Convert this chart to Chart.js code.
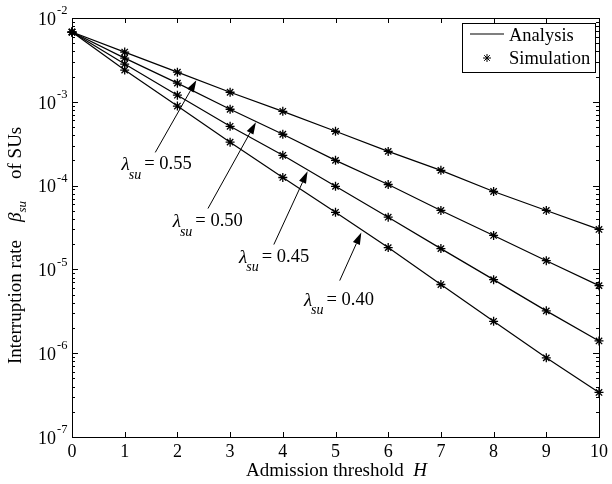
<!DOCTYPE html>
<html>
<head>
<meta charset="utf-8">
<script src="https://cdn.jsdelivr.net/npm/chart.js@4.4.0/dist/chart.umd.min.js"></script>
<style>
  html, body { margin: 0; padding: 0; background: #fff; }
  #wrap { width: 612px; height: 484px; }
</style>
</head>
<body>
<div id="wrap"><canvas id="chart" width="612" height="484"></canvas></div>
<script>
// admission threshold H
const thresholds = [0, 1, 2, 3, 4, 5, 6, 7, 8, 9, 10];

// interruption rate of SUs, one list per arrival rate
const rate055 = [6.8e-3, 3.92e-3, 2.26e-3, 1.30e-3, 7.7e-4, 4.45e-4, 2.56e-4, 1.52e-4, 8.5e-5, 5.05e-5, 3.0e-5];
const rate050 = [6.8e-3, 3.32e-3, 1.67e-3, 8.15e-4, 4.1e-4, 2.0e-4, 1.03e-4, 5.05e-5, 2.54e-5, 1.27e-5, 6.4e-6];
const rate045 = [6.8e-3, 2.82e-3, 1.2e-3, 5.1e-4, 2.3e-4, 9.8e-5, 4.2e-5, 1.77e-5, 7.55e-6, 3.2e-6, 1.4e-6];
const rate040 = [6.8e-3, 2.39e-3, 8.9e-4, 3.3e-4, 1.25e-4, 4.8e-5, 1.82e-5, 6.6e-6, 2.4e-6, 8.8e-7, 3.4e-7];

const lambdaLabels = ['0.55', '0.50', '0.45', '0.40'];

// y axis decades (exponents) for tick labels
const decades = [-7, -6, -5, -4, -3, -2];

// arrow annotations: [H, value] of tip and tail, label anchor [H, value]
const arrowTips = [[2.36, 1.81e-3], [3.49, 5.7e-4], [4.47, 1.48e-4], [5.49, 2.75e-5]];
const arrowTails = [[1.58, 2.49e-4], [2.58, 5.33e-5], [3.83, 1.98e-5], [5.08, 7.35e-6]];
const labelAnchors = [[0.94, 1.75e-4], [1.91, 3.63e-5], [3.17, 1.38e-5], [4.40, 4.23e-6]];

const SERIF = '"Liberation Serif", "Times New Roman", serif';

function makeSet(values) {
  return {
    data: thresholds.map((h, i) => ({ x: h, y: values[i] })),
    borderColor: '#000',
    backgroundColor: '#000',
    borderWidth: 1.2,
    pointStyle: 'star',
    pointRadius: 4.5,
    pointBorderWidth: 1.3,
    pointBorderColor: '#000',
    tension: 0,
    clip: false
  };
}

// box, inward ticks, log labels, titles, arrows and legend
const decorPlugin = {
  id: 'decor',
  afterDraw(chart) {
    const ctx = chart.ctx;
    const area = chart.chartArea;
    const xs = chart.scales.x;
    const ys = chart.scales.y;
    ctx.save();
    ctx.strokeStyle = '#000';
    ctx.fillStyle = '#000';
    ctx.lineWidth = 1;

    // axes box
    ctx.strokeRect(area.left + 0.5, area.top + 0.5, area.right - area.left, area.bottom - area.top);

    // x ticks
    ctx.beginPath();
    thresholds.forEach(h => {
      const px = Math.round(xs.getPixelForValue(h)) + 0.5;
      ctx.moveTo(px, area.bottom); ctx.lineTo(px, area.bottom - 5);
      ctx.moveTo(px, area.top); ctx.lineTo(px, area.top + 5);
    });
    // y ticks (major + minor)
    decades.forEach(n => {
      for (let k = 1; k <= 9; k++) {
        if (n === -2 && k > 1) break;
        const py = Math.round(ys.getPixelForValue(k * Math.pow(10, n))) + 0.5;
        const len = k === 1 ? 6 : 3;
        ctx.moveTo(area.left, py); ctx.lineTo(area.left + len, py);
        ctx.moveTo(area.right, py); ctx.lineTo(area.right - len, py);
      }
    });
    ctx.stroke();

    // y tick labels 10^n
    ctx.textBaseline = 'middle';
    decades.forEach(n => {
      const py = ys.getPixelForValue(Math.pow(10, n));
      ctx.font = '18px ' + SERIF;
      ctx.textAlign = 'right';
      ctx.fillText('10', area.left - 16, py + 2);
      ctx.font = '12.5px ' + SERIF;
      ctx.textAlign = 'left';
      ctx.fillText(String(n), area.left - 15, py - 7);
    });

    // x title
    const t1 = 'Admission threshold  ';
    ctx.font = 'italic 19px ' + SERIF;
    const wH = ctx.measureText('H').width;
    ctx.font = '19px ' + SERIF;
    const w1 = ctx.measureText(t1).width;
    const cx = (area.left + area.right) / 2 + 1;
    const tx = cx - (w1 + wH) / 2;
    ctx.textAlign = 'left';
    ctx.fillText(t1, tx, 471);
    ctx.font = 'italic 19px ' + SERIF;
    ctx.fillText('H', tx + w1, 471);

    // y title (rotated), laid out from the bottom up
    ctx.save();
    ctx.translate(21, 364);
    ctx.rotate(-Math.PI / 2);
    ctx.textBaseline = 'alphabetic';
    ctx.textAlign = 'left';
    let ox = 0;
    ctx.font = '19px ' + SERIF;
    ctx.fillText('Interruption rate', ox, 0);
    ox += ctx.measureText('Interruption rate').width + 18;
    ctx.font = 'italic 19px ' + SERIF;
    ctx.fillText('\u03B2', ox, 0);
    ox += ctx.measureText('\u03B2').width;
    ctx.font = 'italic 13px ' + SERIF;
    ctx.fillText('su', ox, 5);
    ox += ctx.measureText('su').width + 22;
    ctx.font = '19px ' + SERIF;
    ctx.fillText('of SUs', ox, 0);
    ctx.restore();

    // arrows
    arrowTips.forEach((tip, i) => {
      const x1 = xs.getPixelForValue(arrowTails[i][0]);
      const y1 = ys.getPixelForValue(arrowTails[i][1]);
      const x2 = xs.getPixelForValue(tip[0]);
      const y2 = ys.getPixelForValue(tip[1]);
      const ang = Math.atan2(y2 - y1, x2 - x1);
      const hl = 12, hw = 3.8;
      const bx = x2 - hl * Math.cos(ang), by = y2 - hl * Math.sin(ang);
      ctx.beginPath();
      ctx.moveTo(x1, y1); ctx.lineTo(bx, by);
      ctx.stroke();
      ctx.beginPath();
      ctx.moveTo(x2, y2);
      ctx.lineTo(bx + hw * Math.sin(ang), by - hw * Math.cos(ang));
      ctx.lineTo(bx - hw * Math.sin(ang), by + hw * Math.cos(ang));
      ctx.closePath();
      ctx.fill();
    });

    // lambda labels
    labelAnchors.forEach((a, i) => {
      let lx = xs.getPixelForValue(a[0]);
      const ly = ys.getPixelForValue(a[1]);
      ctx.textAlign = 'left';
      ctx.textBaseline = 'middle';
      ctx.font = 'italic 19px ' + SERIF;
      ctx.fillText('\u03BB', lx, ly);
      lx += ctx.measureText('\u03BB').width;
      ctx.font = 'italic 14px ' + SERIF;
      ctx.fillText('su', lx - 1, ly + 10);
      lx += ctx.measureText('su').width + 2;
      ctx.font = '18.5px ' + SERIF;
      ctx.fillText('= ' + lambdaLabels[i], lx, ly - 1);
    });

    // legend
    const lx0 = area.right - 137, ly0 = area.top + 5;
    ctx.fillStyle = '#fff';
    ctx.fillRect(lx0, ly0, 133, 49);
    ctx.strokeRect(lx0 + 0.5, ly0 + 0.5, 133, 49);
    ctx.fillStyle = '#000';
    ctx.beginPath();
    ctx.lineWidth = 1.2;
    ctx.moveTo(lx0 + 8, ly0 + 11); ctx.lineTo(lx0 + 42, ly0 + 11);
    ctx.stroke();
    ctx.lineWidth = 1;
    Chart.helpers.drawPoint(ctx, { pointStyle: 'star', radius: 4, borderWidth: 1 }, lx0 + 25, ly0 + 35);
    ctx.font = '18.5px ' + SERIF;
    ctx.textAlign = 'left';
    ctx.textBaseline = 'middle';
    ctx.fillText('Analysis', lx0 + 47, ly0 + 13);
    ctx.fillText('Simulation', lx0 + 47, ly0 + 36);

    ctx.restore();
  }
};

new Chart(document.getElementById('chart'), {
  type: 'line',
  data: {
    datasets: [makeSet(rate055), makeSet(rate050), makeSet(rate045), makeSet(rate040)]
  },
  options: {
    responsive: false,
    animation: false,
    devicePixelRatio: 1,
    layout: { padding: { top: 18, right: 10, left: 0, bottom: 0 } },
    plugins: { legend: { display: false }, tooltip: { enabled: false } },
    scales: {
      x: {
        type: 'linear',
        min: 0,
        max: 10,
        ticks: { stepSize: 1, color: '#000', font: { family: SERIF, size: 18 }, padding: 4, maxRotation: 0 },
        grid: { display: false, drawTicks: false },
        border: { display: false },
        afterFit(s) { s.height = 47; }
      },
      y: {
        type: 'logarithmic',
        min: 1e-7,
        max: 1e-2,
        ticks: { display: false },
        grid: { display: false, drawTicks: false },
        border: { display: false },
        afterFit(s) { s.width = 72; }
      }
    }
  },
  plugins: [decorPlugin]
});
</script>
</body>
</html>
